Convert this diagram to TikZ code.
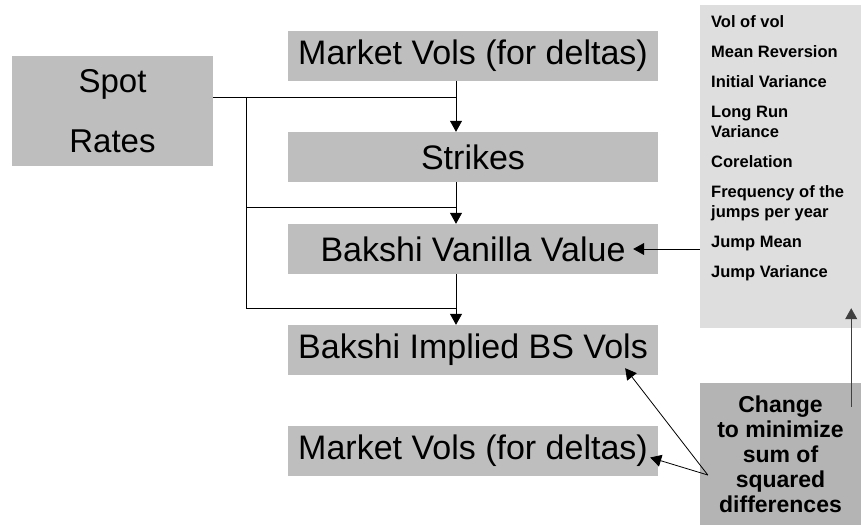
\documentclass[tikz,border=0pt]{standalone}
\usepackage{fontspec}
\setmainfont{Liberation Sans}
\usetikzlibrary{arrows.meta}
\definecolor{boxgray}{HTML}{BEBEBE}
\definecolor{panelgray}{HTML}{DEDEDE}
\definecolor{changegray}{HTML}{B4B4B4}
\begin{document}
\begin{tikzpicture}[x=1pt,y=-1pt]
	\tikzstyle{stage}=[rectangle,fill=boxgray,minimum width=370pt,minimum height=50pt,inner sep=0pt,font=\fontsize{34}{40}\selectfont]
	\tikzstyle{edge}=[draw, line width=0.8pt, -{Triangle[width=12pt,length=11pt]}]
	\tikzstyle{wire}=[draw, line width=0.8pt]
	\useasboundingbox (0,0) rectangle (861,525);
	\begin{scope}
		\node [rectangle,fill=boxgray,minimum width=201pt,minimum height=110pt,inner sep=0pt,align=center,font=\fontsize{33}{60}\selectfont] (spot) at (112.5,111) {Spot\\Rates};
		\node [stage] (mv1) at (473,55.5) {Market Vols (for deltas)};
		\node [stage] (strikes) at (473,157) {Strikes};
		\node [stage] (vanilla) at (473,249) {Bakshi Vanilla Value};
		\node [stage] (implied) at (473,350) {Bakshi Implied BS Vols};
		\node [stage] (mv2) at (473,450.5) {Market Vols (for deltas)};
		\node [rectangle,fill=panelgray,minimum width=161pt,minimum height=323pt,inner sep=0pt] (params) at (780.5,166.5) {};
		\node [anchor=north west,inner sep=0pt,align=left,font=\bfseries\fontsize{16.5}{20}\selectfont] (plist) at (711,15) {Vol of vol\\[10pt] Mean Reversion\\[10pt] Initial Variance\\[10pt] Long Run\\ Variance\\[10pt] Corelation\\[10pt] Frequency of the\\ jumps per year\\[10pt] Jump Mean\\[10pt] Jump Variance};
		\node [rectangle,fill=changegray,minimum width=161pt,minimum height=142pt,inner sep=0pt,align=center,font=\bfseries\fontsize{23}{25}\selectfont] (change) at (780.5,454) {Change\\to minimize\\sum of\\squared\\differences};
		% spot rates feed
		\coordinate (spine) at (456,0);
		\coordinate (branch) at (246,0);
		\coordinate (j1) at (456,207);
		\coordinate (j2) at (456,308);
		\path[wire] ([yshift=14pt]spot.east) coordinate (s0) -- (s0 -| spine);
		\path[wire] (s0 -| branch) |- (j2);
		\path[wire] (branch |- j1) -- (j1);
		% main chain
		\path[edge] (mv1.south -| spine) -- (strikes.north -| spine);
		\path[edge] (strikes.south -| spine) -- (vanilla.north -| spine);
		\path[edge] (vanilla.south -| spine) -- (implied.north -| spine);
		% parameters
		\path[edge] (params.west |- vanilla) -- ([xshift=-25pt]vanilla.east);
		\coordinate (fork) at ([shift={(8,21)}]change.west);
		\path[edge] (fork) -- ([shift={(-33,-7)}]implied.south east);
		\path[edge] (fork) -- ([shift={(-8,7)}]mv2.east);
		\path[edge,draw=black!75] ([shift={(-10,24)}]change.north east) -- ([shift={(-10,-20)}]params.south east);
	\end{scope}
\end{tikzpicture}
\end{document}
